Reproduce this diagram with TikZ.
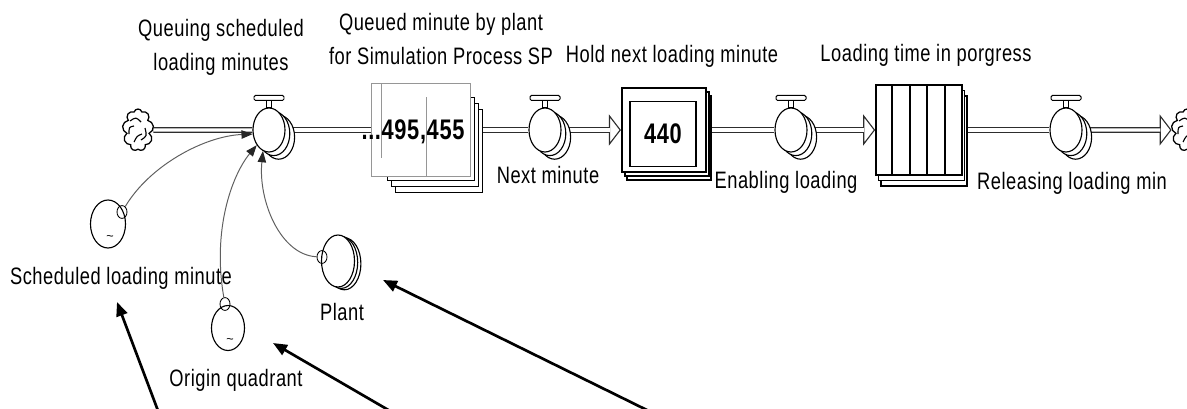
\documentclass[tikz,border=0pt]{standalone}
\usepackage{fontspec}
\setmainfont[LetterSpace=3]{Liberation Sans}
\usepackage{graphicx}
\usepackage{xcolor}
\usetikzlibrary{arrows.meta, shapes.geometric, shapes.symbols, shadows, positioning, calc, backgrounds}

\definecolor{PipeGrey}{RGB}{45,45,45}
\definecolor{LinkGrey}{RGB}{95,95,95}
\definecolor{ValueGrey}{RGB}{150,150,150}

% letters in the model are drawn tall and narrow
\newcommand{\tall}[1]{\scalebox{1}[1.3]{#1}}

\tikzset{
  lbl/.style={font=\fontsize{13}{16}\selectfont, align=center, inner sep=0pt},
  val/.style={font=\bfseries\fontsize{15.5}{18}\selectfont, inner sep=0pt},
  valve/.style={ellipse, draw, line width=0.8pt, fill=white, inner sep=0pt,
    minimum width=8mm, minimum height=11mm,
    copy shadow={shadow xshift=2.4mm, shadow yshift=-1.8mm},
    copy shadow={shadow xshift=1.2mm, shadow yshift=-0.9mm}},
  aux/.style={ellipse, draw, line width=0.8pt, fill=white, inner sep=0pt},
  ring/.style={ellipse, draw, line width=0.6pt, inner sep=0pt,
    minimum width=2.5mm, minimum height=3.2mm},
  stockbox/.style={rectangle, draw, line width=1.2pt, fill=white, inner sep=0pt},
  cloudy/.style={cloud, cloud puffs=9, cloud ignores aspect, draw, line width=0.9pt,
    fill=white, minimum width=7.8mm, minimum height=10.5mm, inner sep=0pt},
  swirl/.style={line width=0.8pt},
  pipe/.style={draw=PipeGrey, double=white, double distance=2.4pt, line width=0.9pt},
  flowtip/.style={draw=PipeGrey, line width=0.8pt,
    -{Triangle[open, length=8.5pt, width=22pt, line width=0.8pt]}},
  infolink/.style={draw=LinkGrey, line width=0.7pt,
    -{Triangle[length=8pt, width=6pt, color=black!85]}},
  pointer/.style={line width=1.9pt, -{Triangle[length=10pt, width=8pt]}}
}

\begin{document}
\begin{tikzpicture}[x=0.025cm, y=-0.025cm]
  \useasboundingbox (0,0) rectangle (1187,408);

  % main chain
  \node[cloudy] (c1) at (138,130) {};
  \node[valve] (v1) at (269,130) {};
  \node[stockbox, minimum width=21.75mm, minimum height=20.75mm,
        copy shadow={shadow xshift=2mm, shadow yshift=-3mm},
        copy shadow={shadow xshift=1mm, shadow yshift=-1.5mm}] (s1) at (431,139) {};
  \node[rectangle, draw=ValueGrey, line width=0.6pt, fill=white,
        minimum width=24.75mm, minimum height=23.25mm] (s1v) at (421,130) {};
  \draw[ValueGrey, line width=0.5pt] ($(s1v.north west)+(10,0)$) -- ($(s1v.south west)+(10,-19)$);
  \draw[ValueGrey, line width=0.5pt] ($(s1v.north west)+(55,14)$) -- ($(s1v.south west)+(55,0)$);
  \node[val] (n1) at (413,132) {\tall{...495,455}};

  \node[valve] (v2) at (545,130) {};
  \node[stockbox, line width=1.5pt, minimum width=21mm, minimum height=21mm,
        copy shadow={shadow xshift=1.3mm, shadow yshift=-2mm},
        copy shadow={shadow xshift=0.65mm, shadow yshift=-1mm}] (s2) at (664,130) {};
  \node[stockbox, line width=1.3pt, minimum width=16.5mm, minimum height=16.25mm,
        val] (s2in) at (663,134) {\tall{440}};

  \node[valve] (v3) at (791,130) {};
  \node[stockbox, minimum width=21.5mm, minimum height=22.5mm,
        copy shadow={shadow xshift=1.2mm, shadow yshift=-2.8mm},
        copy shadow={shadow xshift=0.6mm, shadow yshift=-1.4mm}] (s3) at (919,130) {};
  \foreach \dx in {17,35,52,70}
    \draw[line width=1pt] ($(s3.north west)+(\dx,0)$) -- ($(s3.south west)+(\dx,0)$);

  \node[valve] (v4) at (1066,130) {};
  \node[cloudy] (c2) at (1187,130) {};

  % cloud swirls
  \foreach \c in {c1,c2}{
    \draw[swirl] ($(\c)+(-8,-9)$) .. controls ($(\c)+(-2,-13)$) .. ($(\c)+(3,-8)$);
    \draw[swirl] ($(\c)+(-9,4)$) .. controls ($(\c)+(-9,-3)$) .. ($(\c)+(-4,-4)$);
    \draw[swirl] ($(\c)+(7,-2)$) .. controls ($(\c)+(9,6)$) .. ($(\c)+(3,10)$);
    \draw[swirl] ($(\c)+(-4,12)$) .. controls ($(\c)+(-1,6)$) .. ($(\c)+(4,4)$);
  }

  % valve handles
  \foreach \v in {v1,v2,v3,v4}{
    \draw[fill=white, line width=0.7pt] ($(\v.north)+(-2.5,0)$) rectangle ($(\v.north)+(2.5,-7)$);
    \draw[fill=white, line width=0.7pt, rounded corners=1pt]
      ($(\v.north)+(-15,-7)$) rectangle ($(\v.north)+(15,-12)$);
  }

  \begin{scope}[on background layer]
    \draw[pipe] (c1) -- (v1);
    \draw[pipe] (v1) -- (s1v);
    \draw[pipe] (s1v) -- (v2);
    \draw[flowtip] (v2) -- (s2);
    \draw[pipe, shorten >=8pt] (v2) -- (s2);
    \draw[pipe] (s2) -- (v3);
    \draw[flowtip] (v3) -- (s3);
    \draw[pipe, shorten >=8pt] (v3) -- (s3);
    \draw[pipe] (s3) -- (v4);
    \draw[flowtip] (v4) -- (c2);
    \draw[pipe, shorten >=8pt] (v4) -- (c2);
  \end{scope}

  % auxiliaries
  \node[aux, minimum width=8.75mm, minimum height=12mm] (a1) at (108,224) {};
  \node[font=\small] (t1) at (110,238) {\textasciitilde};
  \node[ring] (r1) at (122,212) {};
  \node[aux, minimum width=8.25mm, minimum height=11.25mm] (a2) at (228,328) {};
  \node[font=\small] (t2) at (230,341) {\textasciitilde};
  \node[ring] (r2) at (225,304) {};
  \node[aux, minimum width=8.25mm, minimum height=13mm,
        copy shadow={shadow xshift=1.6mm, shadow yshift=-0.7mm},
        copy shadow={shadow xshift=0.8mm, shadow yshift=-0.35mm}] (a3) at (338,261) {};
  \node[ring] (r3) at (322,257) {};

  \draw[infolink] (r1) .. controls (150,165) and (205,136) .. (v1.194);
  \draw[infolink] (r2) .. controls (212,230) and (232,175) .. (v1.231);
  \draw[infolink] (r3) .. controls (280,255) and (258,200) .. (v1.254);

  % labels
  \node[lbl] (lv1) at (221,47) {\tall{Queuing scheduled}\\[8pt]\tall{loading minutes}};
  \node[lbl] (ls1) at (441,39) {\tall{Queued minute by plant}\\[8pt]\tall{for Simulation Process SP}};
  \node[lbl] (ls2) at (672,56) {\tall{Hold next loading minute}};
  \node[lbl] (ls3) at (926,55) {\tall{Loading time in porgress}};
  \node[lbl] (lv2) at (548,175) {\tall{Next minute}};
  \node[lbl] (lv3) at (786,182) {\tall{Enabling loading}};
  \node[lbl] (lv4) at (1072,183) {\tall{Releasing loading min}};
  \node[lbl] (la1) at (121,278) {\tall{Scheduled loading minute}};
  \node[lbl] (la2) at (236,380) {\tall{Origin quadrant}};
  \node[lbl] (la3) at (342,312) {\tall{Plant}};

  % pointers from below
  \coordinate (tip1) at (117,302);
  \coordinate (tail1) at (160,416);
  \coordinate (tip2) at (273,343);
  \coordinate (tail2) at (397,415);
  \coordinate (tip3) at (383,280);
  \coordinate (tail3) at (657,415);
  \draw[pointer] (tail1) -- (tip1);
  \draw[pointer] (tail2) -- (tip2);
  \draw[pointer] (tail3) -- (tip3);
\end{tikzpicture}
\end{document}
